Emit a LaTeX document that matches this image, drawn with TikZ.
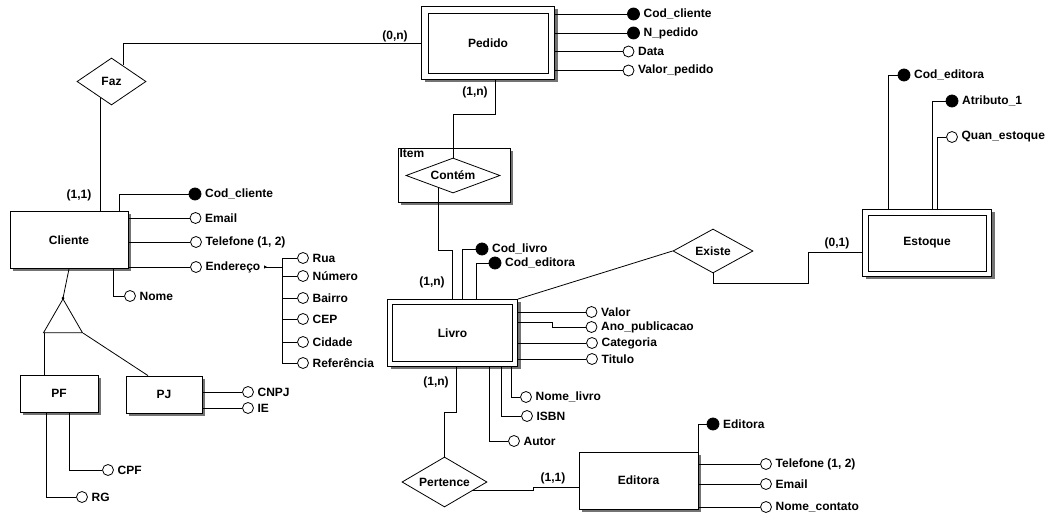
\documentclass[tikz,border=0pt]{standalone}
\usepackage{fontspec}
\setmainfont{Liberation Sans}
\usetikzlibrary{shapes.geometric,shadows,calc,arrows.meta,positioning}

\begin{document}
\begin{tikzpicture}[x=1pt, y=-1pt, line width=0.8pt,
		every node/.style={font=\bfseries\fontsize{12}{14}\selectfont},
		box/.style={rectangle, draw, fill=white},
		entity/.style={box, drop shadow={shadow xshift=3pt, shadow yshift=-3pt, fill=black!55, opacity=1}},
		strong/.style={entity, path picture={
				\draw ([shift={(#1,-#1)}]path picture bounding box.north west)
				rectangle ([shift={(-#1,#1)}]path picture bounding box.south east);}},
		strong/.default=5pt,
		relation/.style={diamond, draw, fill=white, inner sep=0pt},
		attr/.style={circle, draw, fill=white, minimum size=11pt, inner sep=0pt},
		keyattr/.style={attr, fill=black, minimum size=12pt}]
	\useasboundingbox (0,0) rectangle (1055,518);

	% entidades
	\node (pedido) [strong=6.5pt, minimum width=133pt, minimum height=73pt] at (488,43) {Pedido};
	\node (cliente) [entity, minimum width=118pt, minimum height=57pt] at (69,240) {Cliente};
	\node (pf) [entity, minimum width=78pt, minimum height=37pt] at (59,393.5) {PF};
	\node (pj) [entity, minimum width=76pt, minimum height=37pt] at (164,394.5) {PJ};
	\node (item) [entity, minimum width=112pt, minimum height=54pt] at (454,175) {};
	\node (itemlbl) [anchor=north west, inner sep=1.5pt] at (item.north west) {Item};
	\node (livro) [strong, minimum width=130pt, minimum height=67pt] at (452.5,333) {Livro};
	\node (estoque) [strong=5.5pt, minimum width=129pt, minimum height=67pt] at (927,243) {Estoque};
	\node (editora) [entity, minimum width=119pt, minimum height=57pt] at (638.5,480.5) {Editora};

	% relacionamentos
	\node (faz) [relation, minimum width=69pt, minimum height=47pt, aspect=1.47] at (111.5,81.5) {Faz};
	\node (contem) [relation, minimum width=94pt, minimum height=35pt, aspect=2.7] at (453,175.5) {Contém};
	\node (existe) [relation, minimum width=80pt, minimum height=44pt, aspect=1.8] at (713,251) {Existe};
	\node (pertence) [relation, minimum width=85pt, minimum height=50pt, aspect=1.7] at (444.5,482) {Pertence};
	\node (espec) [draw, regular polygon, regular polygon sides=3, minimum size=45pt, inner sep=0pt] at (63,321.5) {};

	% atributos Pedido
	\node (pcod) [keyattr, label=right:Cod\_cliente] at (633.5,14) {};
	\node (pnum) [keyattr, label=right:N\_pedido] at (633.5,33) {};
	\node (pdata) [attr, label=right:Data] at (628.5,51.5) {};
	\node (pvalor) [attr, label=right:Valor\_pedido] at (628.5,70.5) {};

	% atributos Cliente
	\node (ccod) [keyattr, label=right:Cod\_cliente] at (195,194) {};
	\node (cemail) [attr, label=right:Email] at (195.5,218) {};
	\node (ctel) [attr, label=right:{Telefone (1, 2)}] at (196,242) {};
	\node (cend) [attr, label={[name=endtxt]right:Endereço}] at (196,267) {};
	\node (cnome) [attr, label=right:Nome] at (130,296) {};
	\coordinate (endj) at (282,267);
	\node (rua) [attr, label=right:Rua] at (303,258) {};
	\node (numero) [attr, label=right:Número] at (303,276) {};
	\node (bairro) [attr, label=right:Bairro] at (303,298) {};
	\node (cep) [attr, label=right:CEP] at (303,319) {};
	\node (cidade) [attr, label=right:Cidade] at (303,342) {};
	\node (refer) [attr, label=right:Referência] at (303,363) {};

	% atributos PF e PJ
	\node (cnpj) [attr, label=right:CNPJ] at (248,392) {};
	\node (ie) [attr, label=right:IE] at (248,408) {};
	\node (cpf) [attr, label=right:CPF] at (108,470) {};
	\node (rg) [attr, label=right:RG] at (82,497) {};

	% atributos Livro
	\node (lcod) [keyattr, label=right:Cod\_livro] at (482,249) {};
	\node (ledit) [keyattr, label=right:Cod\_editora] at (495,263) {};
	\node (lvalor) [attr, label=right:Valor] at (591.5,312) {};
	\node (lano) [attr, label=right:Ano\_publicacao] at (591.5,327) {};
	\node (lcat) [attr, label=right:Categoria] at (592,343) {};
	\node (ltit) [attr, label=right:Titulo] at (592,359) {};
	\node (lnome) [attr, label=right:Nome\_livro] at (526,397) {};
	\node (lisbn) [attr, label=right:ISBN] at (527,416) {};
	\node (lautor) [attr, label=right:Autor] at (514,441) {};

	% atributos Estoque
	\node (ecod) [keyattr, label=right:Cod\_editora] at (904,75) {};
	\node (eatr) [keyattr, label=right:Atributo\_1] at (952,101) {};
	\node (equan) [attr, label=right:Quan\_estoque] at (952,137) {};

	% atributos Editora
	\node (edkey) [keyattr, label=right:Editora] at (713,424) {};
	\node (edtel) [attr, label=right:{Telefone (1, 2)}] at (766,464) {};
	\node (edemail) [attr, label=right:Email] at (766,484) {};
	\node (edcont) [attr, label=right:Nome\_contato] at (766,507) {};

	% cardinalidades
	\node (cpedfaz) at (395,36) {(0,n)};
	\node (cclifaz) at (79,195) {(1,1)};
	\node (cpedcon) at (475,92) {(1,n)};
	\node (clivcon) at (432,282) {(1,n)};
	\node (cestexi) at (837,243) {(0,1)};
	\node (clivper) at (436,382) {(1,n)};
	\node (cediper) at (553,478) {(1,1)};

	% ligacoes
	\draw (pedido.west) -| ($(faz.north)!0.33!(faz.east)$);
	\draw ($(faz.west)!0.67!(faz.south)$) coordinate (fz) -- (fz |- cliente.north);
	\draw ([xshift=7pt]pedido.south) -- ++(0,35) -| (contem.north);
	\draw ($(contem.west)!0.7!(contem.south)$) -- ++(0,62) -| (livro.north);
	\draw (livro.north east) -- (existe.west);
	\draw (existe.south) |- (808,283) |- ([yshift=-9pt]estoque.west);
	\draw ([xshift=3.5pt]livro.south) -- ++(0,46) -| (pertence.north);
	\draw ($(pertence.east)!0.35!(pertence.south)$) -- ++(61,0) |- ([yshift=-6.5pt]editora.west);

	\draw (cliente.south) -- (espec.corner 1);
	\fill (espec.corner 1) circle (1.5pt);
	\path ([xshift=1.5pt]espec.corner 2) coordinate (e2);
	\draw (e2) -- (e2 |- pf.north);
	\draw (espec.corner 3) -- ([xshift=-16pt]pj.north);

	\draw (pedido.east |- pcod) -- (pcod);
	\draw (pedido.east |- pnum) -- (pnum);
	\draw (pedido.east |- pdata) -- (pdata);
	\draw (pedido.east |- pvalor) -- (pvalor);

	\draw ([xshift=50pt]cliente.north) |- (ccod);
	\draw (cliente.east |- cemail) -- (cemail);
	\draw (cliente.east |- ctel) -- (ctel);
	\draw (cliente.east |- cend) -- (cend);
	\draw ([xshift=44pt]cliente.south) |- (cnome);
	\draw [{Triangle[reversed, length=3pt, width=3pt]}-] (endtxt.east) -- (endj);
	\draw (endj) |- (rua);
	\draw (endj) |- (numero);
	\draw (endj) |- (bairro);
	\draw (endj) |- (cep);
	\draw (endj) |- (cidade);
	\draw (endj) |- (refer);

	\draw (pj.east |- cnpj) -- (cnpj);
	\draw (pj.east |- ie) -- (ie);
	\draw ([xshift=10pt]pf.south) |- (cpf);
	\draw ([xshift=-13pt]pf.south) |- (rg);

	\draw ([xshift=9.5pt]livro.north) |- (lcod);
	\draw ([xshift=23.5pt]livro.north) |- (ledit);
	\draw (livro.east |- lvalor) -- (lvalor);
	\draw ([yshift=11pt]livro.east) -- ++(34,0) |- (lano);
	\draw (livro.east |- lcat) -- (lcat);
	\draw (livro.east |- ltit) -- (ltit);
	\draw ([xshift=58.5pt]livro.south) |- (lnome);
	\draw ([xshift=48.5pt]livro.south) |- (lisbn);
	\draw ([xshift=36.5pt]livro.south) |- (lautor);

	\draw ([xshift=-39pt]estoque.north) |- (ecod);
	\draw ([xshift=5pt]estoque.north) |- (eatr);
	\draw ([xshift=10pt]estoque.north) |- (equan);

	\draw (editora.north east) |- (edkey);
	\draw (editora.east |- edtel) -- (edtel);
	\draw (editora.east |- edemail) -- (edemail);
	\draw (editora.east |- edcont) -- (edcont);
\end{tikzpicture}
\end{document}
